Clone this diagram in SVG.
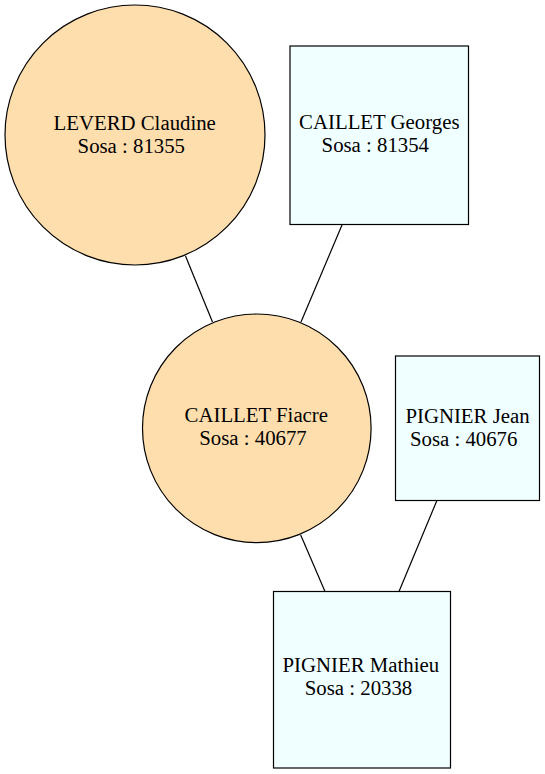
<svg xmlns="http://www.w3.org/2000/svg" width="545" height="774" viewBox="0 0 545 774">
<style>
.f{fill:#ffdead;stroke:#000;stroke-width:1.2}
.m{fill:#f0ffff;stroke:#000;stroke-width:1.2}
text{font-family:"Liberation Serif","Times New Roman",serif;font-size:20.8px;fill:#000;text-anchor:middle}
.e{stroke:#000;stroke-width:1.2;fill:none}
</style>
<rect width="545" height="774" fill="#fff"/>
<g id="edges">
<line class="e" x1="185.5" y1="256" x2="212.5" y2="322"/>
<line class="e" x1="342" y1="225" x2="301" y2="322"/>
<line class="e" x1="300.7" y1="535" x2="325" y2="591.5"/>
<line class="e" x1="436.7" y1="501" x2="399" y2="591.5"/>
</g>
<g id="n81355">
<circle class="f" cx="135" cy="135" r="130"/>
<text x="134.7" y="129.5">LEVERD Claudine</text>
<text x="131.3" y="152.5">Sosa : 81355</text>
</g>
<g id="n81354">
<rect class="m" x="290" y="46" width="178.5" height="178.5"/>
<text x="379.3" y="128.5">CAILLET Georges</text>
<text x="375.3" y="151.5">Sosa : 81354</text>
</g>
<g id="n40677">
<circle class="f" cx="256.8" cy="428.3" r="114.3"/>
<text x="256.3" y="421.7">CAILLET Fiacre</text>
<text x="253" y="444.7">Sosa : 40677</text>
</g>
<g id="n40676">
<rect class="m" x="395.5" y="356" width="144" height="144.5"/>
<text x="467.5" y="422.5">PIGNIER Jean</text>
<text x="463.7" y="445.5">Sosa : 40676</text>
</g>
<g id="n20338">
<rect class="m" x="273.5" y="591.5" width="177" height="176.5"/>
<text x="360.8" y="671.7">PIGNIER Mathieu</text>
<text x="358.5" y="694.7">Sosa : 20338</text>
</g>
</svg>
